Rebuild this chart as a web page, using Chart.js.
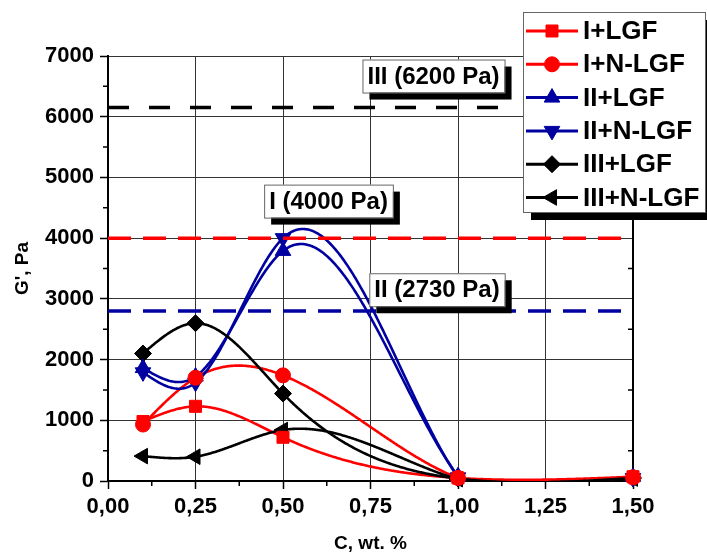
<!DOCTYPE html>
<html>
<head>
<meta charset="utf-8">
<script src="https://cdn.jsdelivr.net/npm/chart.js@4.4.1/dist/chart.umd.min.js"></script>
<style>
  html, body { margin: 0; padding: 0; background: #fff; }
  canvas { display: block; }
</style>
</head>
<body>
<canvas id="chart" width="707" height="557"></canvas>
<script>
// concentration, wt. %
const conc = [0.1, 0.25, 0.5, 1.0, 1.5];

// G', Pa
const iLgf = [980, 1230, 720, 50, 70];
const iNLgf = [930, 1700, 1740, 50, 60];
const iiLgf = [1860, 1720, 3790, 80, 70];
const iiNLgf = [1790, 1620, 4000, 60, 50];
const iiiLgf = [2100, 2600, 1440, 40, 50];
const iiiNLgf = [410, 400, 840, 30, 40];

const seriesNames = ['I+LGF', 'I+N-LGF', 'II+LGF', 'II+N-LGF', 'III+LGF', 'III+N-LGF'];

// reference levels (dashed lines)
const refNames = ['III (6200 Pa)', 'I (4000 Pa)', 'II (2730 Pa)'];
const refValues = [6150, 4000, 2800];
const refEnds = [1.12, 1.5, 1.5];

const xTickLabels = ['0,00', '0,25', '0,50', '0,75', '1,00', '1,25', '1,50'];
const yTickLabels = ['0', '1000', '2000', '3000', '4000', '5000', '6000', '7000'];

const FONT = '"Liberation Sans", Arial, sans-serif';
const RED = '#ff0000';
const BLUE = '#0000a0';
const BLACK = '#000000';

const looks = [
  { color: RED, style: 'rect', rot: 0, r: 8.5 },
  { color: RED, style: 'circle', rot: 0, r: 7.5 },
  { color: BLUE, style: 'triangle', rot: 0, r: 9 },
  { color: BLUE, style: 'triangle', rot: 180, r: 9 },
  { color: BLACK, style: 'rectRot', rot: 0, r: 8.5 },
  { color: BLACK, style: 'triangle', rot: 270, r: 9 }
];
const refColors = [BLACK, RED, BLUE];
const refDash = [[21, 20], [23, 12], [23, 12]];
// label box centres, in data units
const refLabelPos = [{ x: 0.93, y: 6670 }, { x: 0.63, y: 4610 }, { x: 0.94, y: 3150 }];

const allSeries = [iLgf, iNLgf, iiLgf, iiNLgf, iiiLgf, iiiNLgf];

const curveSets = allSeries.map((vals, i) => ({
  label: seriesNames[i],
  data: conc.map((c, j) => ({ x: c, y: vals[j] })),
  smooth: true,
  showLine: false,
  clip: false,
  borderColor: looks[i].color,
  backgroundColor: looks[i].color,
  pointStyle: looks[i].style,
  pointRotation: looks[i].rot,
  pointRadius: looks[i].r,
  pointHoverRadius: looks[i].r,
  pointBorderWidth: 1,
  pointBackgroundColor: looks[i].color,
  pointBorderColor: looks[i].color
}));

const refSets = refValues.map((v, i) => ({
  label: refNames[i],
  data: [{ x: 0, y: v }, { x: refEnds[i], y: v }],
  borderColor: refColors[i],
  borderWidth: 3.5,
  borderDash: refDash[i],
  pointRadius: 0,
  tension: 0
}));

// natural cubic spline through (xs, ys)
function naturalSpline(xs, ys) {
  const n = xs.length, h = [], m = new Array(n).fill(0);
  for (let i = 0; i < n - 1; i++) h.push(xs[i + 1] - xs[i]);
  const a = [], b = [], c = [], d = [];
  for (let i = 1; i < n - 1; i++) {
    a.push(h[i - 1]); b.push(2 * (h[i - 1] + h[i])); c.push(h[i]);
    d.push(6 * ((ys[i + 1] - ys[i]) / h[i] - (ys[i] - ys[i - 1]) / h[i - 1]));
  }
  const k = d.length;
  for (let i = 1; i < k; i++) {
    const w = a[i] / b[i - 1];
    b[i] -= w * c[i - 1];
    d[i] -= w * d[i - 1];
  }
  const sol = new Array(k);
  for (let i = k - 1; i >= 0; i--) sol[i] = (d[i] - (i < k - 1 ? c[i] * sol[i + 1] : 0)) / b[i];
  for (let i = 0; i < k; i++) m[i + 1] = sol[i];
  return X => {
    let i = 0;
    while (i < n - 2 && X > xs[i + 1]) i++;
    const hi = h[i], t0 = xs[i + 1] - X, t1 = X - xs[i];
    return m[i] * t0 * t0 * t0 / (6 * hi) + m[i + 1] * t1 * t1 * t1 / (6 * hi) +
      (ys[i] / hi - m[i] * hi / 6) * t0 + (ys[i + 1] / hi - m[i + 1] * hi / 6) * t1;
  };
}

const splinePlugin = {
  id: 'splines',
  beforeDatasetsDraw(chart) {
    const { ctx, chartArea: ar, scales: { x, y } } = chart;
    ctx.save();
    ctx.beginPath();
    ctx.rect(ar.left, ar.top, ar.right - ar.left, ar.bottom - ar.top);
    ctx.clip();
    chart.data.datasets.forEach(ds => {
      if (!ds.smooth) return;
      const px = ds.data.map(p => x.getPixelForValue(p.x));
      const py = ds.data.map(p => y.getPixelForValue(p.y));
      const f = naturalSpline(px, py);
      ctx.beginPath();
      ctx.strokeStyle = ds.borderColor;
      ctx.lineWidth = 2.6;
      ctx.lineJoin = 'round';
      ctx.moveTo(px[0], py[0]);
      for (let X = px[0]; X <= px[px.length - 1]; X += 1) ctx.lineTo(X, f(X));
      ctx.lineTo(px[px.length - 1], py[py.length - 1]);
      ctx.stroke();
    });
    ctx.restore();
  }
};

// minor ticks + right frame
const framePlugin = {
  id: 'frame',
  afterDatasetsDraw(chart) {
    const { ctx, chartArea: ar, scales: { x, y } } = chart;
    ctx.save();
    ctx.strokeStyle = '#000';
    ctx.lineWidth = 1.5;
    ctx.beginPath();
    for (let v = 500; v < 7000; v += 1000) {
      const py = y.getPixelForValue(v);
      ctx.moveTo(ar.left - 5, py); ctx.lineTo(ar.left, py);
      ctx.moveTo(ar.right - 5, py); ctx.lineTo(ar.right, py);
    }
    for (let v = 0.125; v < 1.5; v += 0.25) {
      const px = x.getPixelForValue(v);
      ctx.moveTo(px, ar.bottom); ctx.lineTo(px, ar.bottom + 5);
    }
    ctx.stroke();
    ctx.restore();
  },
  beforeDatasetsDraw(chart) {
    const { ctx, chartArea: ar } = chart;
    ctx.save();
    ctx.strokeStyle = '#000';
    ctx.lineWidth = 2;
    ctx.beginPath();
    ctx.moveTo(ar.right, ar.top);
    ctx.lineTo(ar.right, ar.bottom + 1);
    ctx.stroke();
    ctx.restore();
  }
};

function boxWithShadow(ctx, l, t, w, h, sh) {
  ctx.fillStyle = '#000';
  ctx.fillRect(l + sh, t + sh, w, h);
  ctx.fillStyle = '#fff';
  ctx.fillRect(l, t, w, h);
  ctx.strokeStyle = '#666';
  ctx.lineWidth = 1;
  ctx.strokeRect(l + 0.5, t + 0.5, w, h);
}

const labelPlugin = {
  id: 'refLabels',
  afterDatasetsDraw(chart) {
    const { ctx, scales: { x, y } } = chart;
    ctx.save();
    ctx.font = 'bold 24px ' + FONT;
    ctx.textBaseline = 'middle';
    ctx.textAlign = 'center';
    refNames.forEach((name, i) => {
      const cx = x.getPixelForValue(refLabelPos[i].x);
      const cy = y.getPixelForValue(refLabelPos[i].y);
      const w = ctx.measureText(name).width + 10;
      const h = 33;
      boxWithShadow(ctx, cx - w / 2, cy - h / 2, w, h, 7);
      ctx.fillStyle = '#000';
      ctx.fillText(name, cx, cy + 1);
    });
    ctx.restore();
  }
};

const legendPlugin = {
  id: 'boxLegend',
  afterDraw(chart) {
    const { ctx } = chart;
    const l = 523, t = 12, w = 182, h = 200;
    ctx.save();
    boxWithShadow(ctx, l, t, w, h, 8);
    ctx.font = 'bold 26px ' + FONT;
    ctx.textBaseline = 'middle';
    ctx.textAlign = 'left';
    curveSets.forEach((ds, i) => {
      const ry = 31 + i * 33.3;
      ctx.strokeStyle = ds.borderColor;
      ctx.lineWidth = 3;
      ctx.beginPath();
      ctx.moveTo(526, ry); ctx.lineTo(578, ry);
      ctx.stroke();
      ctx.fillStyle = ds.borderColor;
      ctx.lineWidth = 1;
      Chart.helpers.drawPoint(ctx, {
        pointStyle: ds.pointStyle, rotation: ds.pointRotation,
        radius: ds.pointRadius, borderWidth: 1
      }, 552, ry);
      ctx.fillStyle = '#000';
      ctx.fillText(ds.label, 583, ry + 1);
    });
    ctx.restore();
  }
};

new Chart(document.getElementById('chart'), {
  type: 'line',
  data: { datasets: [...refSets, ...curveSets] },
  options: {
    responsive: false,
    animation: false,
    layout: { padding: { top: 56, right: 74, left: 0, bottom: 0 } },
    plugins: { legend: { display: false }, tooltip: { enabled: false } },
    scales: {
      x: {
        type: 'linear',
        min: 0,
        max: 1.5,
        afterFit: s => { s.height = 76; },
        ticks: {
          stepSize: 0.25,
          autoSkip: false,
          maxRotation: 0,
          padding: 5,
          color: '#000',
          font: { family: FONT, size: 22, weight: 'bold' },
          callback: (v, i) => xTickLabels[i]
        },
        grid: { color: '#333', lineWidth: 1, tickLength: 8, tickColor: '#000', tickWidth: 1.5 },
        border: { color: '#000', width: 2 },
        title: {
          display: true,
          text: 'C, wt. %',
          color: '#000',
          font: { family: FONT, size: 19, weight: 'bold' },
          padding: { top: 0, bottom: 2 }
        }
      },
      y: {
        min: 0,
        max: 7000,
        afterFit: s => { s.width = 108; },
        ticks: {
          stepSize: 1000,
          padding: 6,
          color: '#000',
          font: { family: FONT, size: 22, weight: 'bold' },
          callback: (v, i) => yTickLabels[i]
        },
        grid: { color: '#333', lineWidth: 1, tickLength: 8, tickColor: '#000', tickWidth: 1.5 },
        border: { color: '#000', width: 2 },
        title: {
          display: true,
          text: "G', Pa",
          color: '#000',
          font: { family: FONT, size: 19, weight: 'bold' },
          padding: { top: 11, bottom: 0 }
        }
      }
    }
  },
  plugins: [splinePlugin, labelPlugin, framePlugin, legendPlugin]
});
</script>
</body>
</html>
